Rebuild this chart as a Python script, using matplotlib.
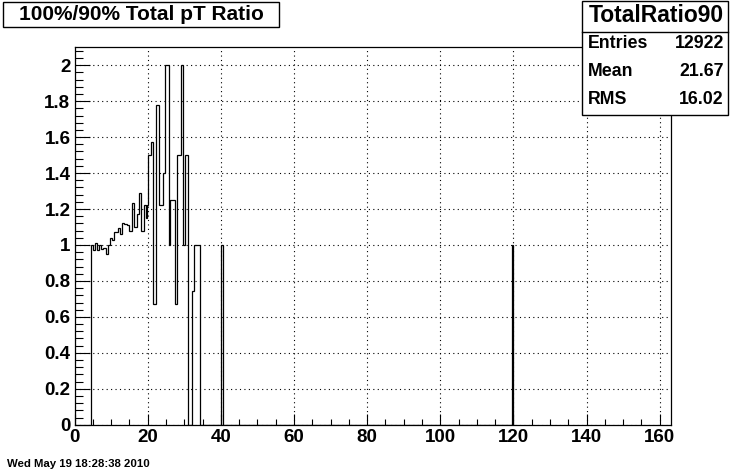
import numpy as np
import matplotlib
matplotlib.use("Agg")
import matplotlib.pyplot as plt
from matplotlib.patches import Rectangle
from matplotlib.ticker import MultipleLocator

plt.rcParams['font.family'] = ['Liberation Sans', 'DejaVu Sans']
plt.rcParams['font.weight'] = 'bold'

# bin edges (pT) and 100%/90% ratio
edges = [4.5, 5.1, 5.6, 6.15, 6.6, 7.3, 7.9, 8.5, 9.0, 9.55,
         10.1, 10.65, 11.2, 11.75, 12.3, 13.0, 13.55, 14.3, 14.85, 15.75,
         16.3, 17.05, 17.6, 18.25, 18.9, 19.45, 19.8, 20.2, 20.8, 21.5,
         22.3, 23.0, 24.2, 24.8, 25.7, 26.2, 27.4, 28.1, 29.05, 29.7,
         30.2, 30.9, 32.0, 32.7, 34.2, 40.0, 40.5, 119.5, 120.0]
ratio = [1.0, 0.97, 1.01, 0.97, 1.0, 0.98, 0.985, 0.95, 1.0, 1.04,
         1.03, 1.07, 1.075, 1.095, 1.06, 1.12, 1.115, 1.11, 1.08, 1.235,
         1.1, 1.17, 1.29, 1.08, 1.22, 1.15, 1.22, 1.5, 1.57, 0.67,
         1.78, 1.22, 1.4, 2.0, 1.0, 1.25, 0.67, 1.5, 2.0, 1.0,
         1.5, 0.0, 0.745, 1.0, 0.0, 1.0, 0.0, 1.0]

title = "100%/90% Total pT Ratio"
hist_name = "TotalRatio90"
stat_names = ["Entries", "Mean", "RMS"]
stat_values = ["12922", "21.67", "16.02"]
datestamp = "Wed May 19 18:28:38 2010"

W, H = 746, 472
fig = plt.figure(figsize=(W / 100, H / 100), dpi=100)
fig.patch.set_facecolor('white')

ax = fig.add_axes([0.1, 0.1, 0.8, 0.8])
ax.stairs(ratio, edges, baseline=0, color='black', lw=0.9)

ax.set_xlim(0, 163.2)
ax.set_ylim(0, 2.1)
ax.xaxis.set_major_locator(MultipleLocator(20))
ax.xaxis.set_minor_locator(MultipleLocator(5))
ax.yaxis.set_major_locator(MultipleLocator(0.2))
ax.yaxis.set_minor_locator(MultipleLocator(0.04))
ax.yaxis.set_major_formatter(plt.FuncFormatter(lambda v, p: ('%g' % round(v, 2))))

ax.grid(True, which='major', linestyle=(0, (1, 3)), color='black', lw=0.8)
ax.tick_params(axis='x', which='major', direction='in', length=8, width=0.8,
               top=False, labelsize=13.5, pad=3)
ax.tick_params(axis='x', which='minor', direction='in', length=4, width=0.8, top=False)
ax.tick_params(axis='y', which='major', direction='in', length=11, width=0.8,
               right=False, labelsize=13.5, pad=3)
ax.tick_params(axis='y', which='minor', direction='in', length=5.5, width=0.8, right=False)
for lab in ax.get_xticklabels() + ax.get_yticklabels():
    lab.set_family(['Liberation Sans Narrow', 'Liberation Sans'])
for s in ax.spines.values():
    s.set_linewidth(0.9)


def px(x0, y0, x1, y1):
    # pixel box (from top-left) -> figure fraction rectangle
    return (x0 / W, 1 - y1 / H, (x1 - x0) / W, (y1 - y0) / H)


# title box
l, b, w, h = px(3, 2, 279, 27)
fig.patches.append(Rectangle((l, b), w, h, transform=fig.transFigure,
                             facecolor='white', edgecolor='black', lw=1))
fig.text(141 / W, 1 - 15 / H, title, ha='center', va='center', fontsize=15)

# stats box
l, b, w, h = px(582, 1, 728, 115)
fig.patches.append(Rectangle((l, b), w, h, transform=fig.transFigure,
                             facecolor='white', edgecolor='black', lw=1, zorder=5))
fig.add_artist(plt.Line2D([582 / W, 728 / W], [1 - 31.5 / H, 1 - 31.5 / H],
                          transform=fig.transFigure, color='black', lw=1, zorder=6))
fig.text(656 / W, 1 - 16 / H, hist_name, ha='center', va='center', fontsize=16.5, zorder=7)
rows_y = [44, 72, 100]
for name, val, yy in zip(stat_names, stat_values, rows_y):
    fig.text(588 / W, 1 - yy / H, name, ha='left', va='center', fontsize=12.8, zorder=7)
    fig.text(724 / W, 1 - yy / H, val, ha='right', va='center', fontsize=12.8, zorder=7)

fig.text(7 / W, 1 - 464 / H, datestamp, ha='left', va='center', fontsize=8.2)

fig.savefig("out.png", dpi=100)
